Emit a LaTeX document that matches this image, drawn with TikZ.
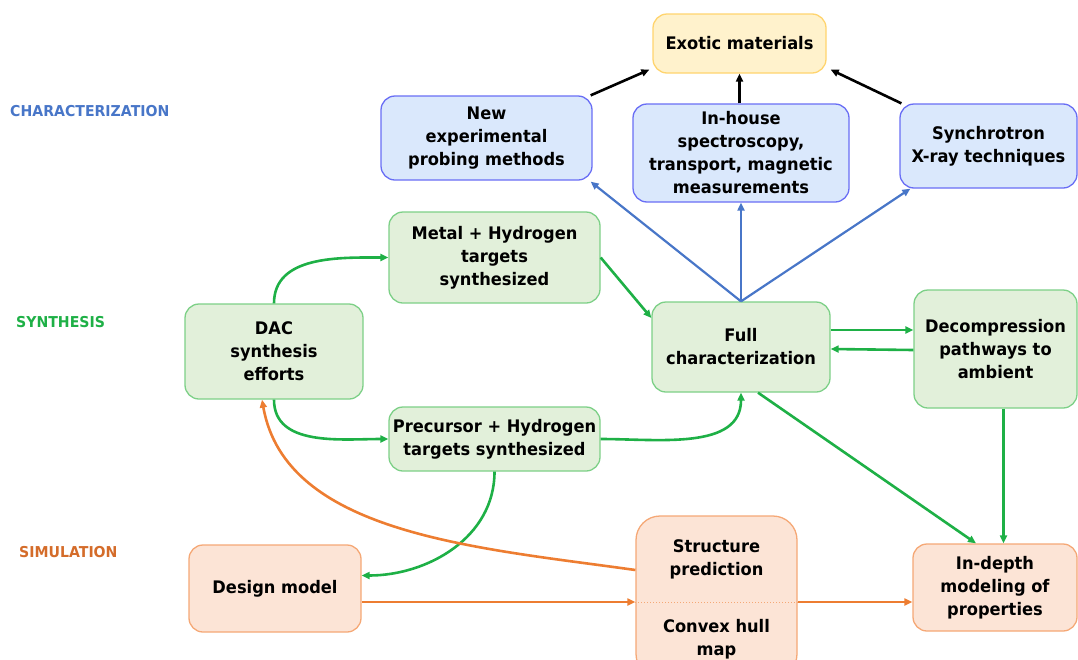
\documentclass[tikz,border=0pt]{standalone}
\usepackage{fontspec}
\setmainfont{DejaVu Sans}[FakeStretch=0.94]
\usetikzlibrary{arrows.meta}

\definecolor{charline}{RGB}{105,110,245}
\definecolor{charfill}{RGB}{218,232,252}
\definecolor{synline}{RGB}{125,208,135}
\definecolor{synfill}{RGB}{226,240,218}
\definecolor{simline}{RGB}{245,168,118}
\definecolor{simfill}{RGB}{252,228,214}
\definecolor{goalline}{RGB}{255,212,110}
\definecolor{goalfill}{RGB}{255,242,204}
\definecolor{charlink}{RGB}{72,118,200}
\definecolor{synlink}{RGB}{30,176,70}
\definecolor{simlink}{RGB}{237,125,49}
\definecolor{simlabel}{RGB}{212,108,42}

\begin{document}
\begin{tikzpicture}[
    x=1pt, y=-1pt,
    box/.style={
      draw, rounded corners=14pt, line width=1.3pt,
      align=center, inner sep=0pt,
      font=\fontsize{17.3}{23}\selectfont\bfseries
    },
    charbox/.style={box, draw=charline, fill=charfill},
    synbox/.style={box, draw=synline, fill=synfill},
    simbox/.style={box, draw=simline, fill=simfill},
    goalbox/.style={box, draw=goalline, fill=goalfill},
    boxtext/.style={align=center, inner sep=0pt, font=\fontsize{17.3}{23}\selectfont\bfseries},
    lane/.style={anchor=west, inner sep=0pt, font=\fontsize{15}{18}\selectfont\bfseries},
    link/.style={-{Triangle[length=8pt,width=7pt]}, line width=2.6pt}
  ]
  \useasboundingbox (0,0) rectangle (1078,659);

  % row labels
  \node[lane, text=charlink] (charlane) at (10,111) {CHARACTERIZATION};
  \node[lane, text=synlink] (synlane) at (16,322) {SYNTHESIS};
  \node[lane, text=simlabel] (simlane) at (19,552) {SIMULATION};

  % characterization
  \node[goalbox, minimum width=173pt, minimum height=59pt] (exotic) at (739.5,43.5) {Exotic materials};
  \node[charbox, minimum width=211pt, minimum height=84pt] (newexp) at (486.5,138) {New\\experimental\\probing methods};
  \node[charbox, minimum width=216pt, minimum height=98pt] (inhouse) at (741,153) {In-house\\spectroscopy,\\transport, magnetic\\measurements};
  \node[charbox, minimum width=177pt, minimum height=84pt] (synch) at (988.5,146) {Synchrotron\\X-ray techniques};

  % synthesis
  \node[synbox, minimum width=211pt, minimum height=91pt] (metal) at (494.5,257.5) {Metal + Hydrogen\\targets\\synthesized};
  \node[synbox, minimum width=178pt, minimum height=95pt] (dac) at (274,351.5) {DAC\\synthesis\\efforts};
  \node[synbox, minimum width=211pt, minimum height=64pt] (precursor) at (494.5,439) {Precursor + Hydrogen\\targets synthesized};
  \node[synbox, minimum width=178pt, minimum height=90pt] (full) at (741,347) {Full\\characterization};
  \node[synbox, minimum width=163pt, minimum height=118pt] (decomp) at (995.5,349) {Decompression\\pathways to\\ambient};

  % simulation
  \node[simbox, minimum width=172pt, minimum height=87pt] (design) at (275,588.5) {Design model};
  \node[simbox, rounded corners=24pt, minimum width=161pt, minimum height=162pt] (struct) at (716.5,597) {};
  \node[boxtext] (structtop) at (716.5,559) {Structure\\prediction};
  \node[boxtext] (structbot) at (716.5,639) {Convex hull\\map};
  \coordinate (hull) at (716.5,602);
  \draw[simline, dotted, line width=1pt] (struct.west |- hull) -- (struct.east |- hull);
  \node[simbox, minimum width=164pt, minimum height=87pt] (indepth) at (995,587.5) {In-depth\\modeling of\\properties};

  % towards exotic materials
  \draw[link, black] ([xshift=-2pt]newexp.north east) -- ([xshift=-3pt,yshift=4pt]exotic.south west);
  \draw[link, black] (exotic.south |- inhouse.north) -- (exotic.south);
  \draw[link, black] ([xshift=2pt]synch.north west) -- ([xshift=4pt,yshift=4pt]exotic.south east);

  % characterization links
  \draw[link, charlink, line width=2.2pt] (full.north) -- ([xshift=-2pt,yshift=-1pt]newexp.south east);
  \draw[link, charlink, line width=2.2pt] (full.north) -- (full.north |- inhouse.south);
  \draw[link, charlink, line width=2.2pt] (full.north) -- ([xshift=11pt]synch.south west);

  % synthesis links
  \draw[link, synlink] (dac.north) to[out=90, in=180] (metal.west);
  \draw[link, synlink] (dac.south) to[out=-90, in=180] (precursor.west);
  \draw[link, synlink] (metal.east) -- ([yshift=29pt]full.west);
  \draw[link, synlink] (precursor.east) to[out=0, in=-90] (full.south);
  \draw[link, synlink] ([yshift=17pt]full.east) -- ([yshift=19pt]decomp.west);
  \draw[link, synlink] ([yshift=-1pt]decomp.west) -- ([yshift=-2pt]full.east);
  \draw[link, synlink] ([xshift=17pt]full.south) -- ([xshift=-19pt]indepth.north);
  \draw[link, synlink] ([xshift=8pt]decomp.south) -- ([xshift=8pt]decomp.south |- indepth.north);
  \draw[link, synlink] (precursor.south) to[out=-90, in=0] ([yshift=13pt]design.east);

  % simulation links
  \draw[link, simlink] ([yshift=27pt]struct.west) to[out=172, in=-80, in looseness=0.85] ([xshift=-12pt]dac.south);
  \draw[link, simlink] (design.east |- hull) -- (struct.west |- hull);
  \draw[link, simlink] (struct.east |- hull) -- (indepth.west |- hull);
\end{tikzpicture}
\end{document}
